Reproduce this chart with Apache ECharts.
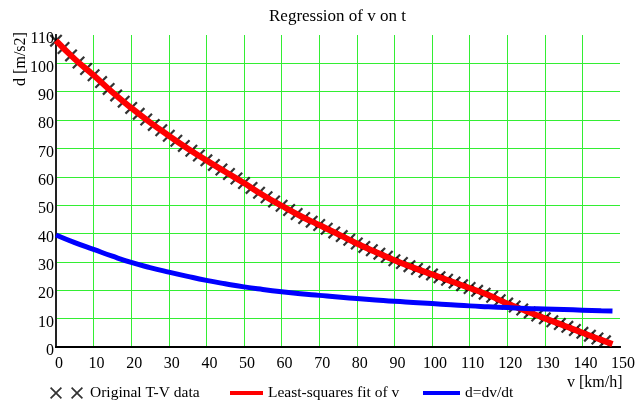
<!DOCTYPE html>
<html>
<head>
<meta charset="utf-8">
<script src="https://cdn.jsdelivr.net/npm/echarts@6/dist/echarts.min.js"></script>
<style>
	html, body { margin: 0; padding: 0; background: #fff; }
	#chart { width: 638px; height: 403px; }
</style>
</head>
<body>
<div id="chart"></div>
<script>
	// original T-V data (v in km/h, d in m/s2)
	var tvV = [0, 2, 4, 6, 8, 10, 12, 14, 16, 18, 20, 22, 24, 26, 28, 30, 32, 34, 36, 38,
		40, 42, 44, 46, 48, 50, 52, 54, 56, 58, 60, 62, 64, 66, 68, 70, 72, 74, 76, 78,
		80, 82, 84, 86, 88, 90, 92, 94, 96, 98, 100, 102, 104, 106, 108, 110, 112, 114, 116, 118,
		120, 122, 124, 126, 128, 130, 132, 134, 136, 138, 140, 142, 144, 146];
	var tvD = [108, 105.4, 102.8, 100.3, 98, 95.8, 93.4, 91, 88.7, 86.5, 84.3, 82.2, 80.2, 78.3, 76.4, 74.5, 72.7, 70.9, 69.2, 67.5,
		65.8, 64.2, 62.6, 61, 59.4, 57.8, 56.1, 54.4, 52.8, 51.3, 49.8, 48.3, 46.9, 45.5, 44.2, 43, 41.7, 40.4, 39.1, 37.8,
		36.5, 35.3, 34.1, 32.9, 31.8, 30.6, 29.6, 28.5, 27.5, 26.5, 25.6, 24.6, 23.7, 22.7, 21.8, 20.8, 19.8, 18.8, 17.7, 16.5,
		15.3, 14.3, 13.2, 12.2, 11.1, 10.1, 9.1, 8.1, 7.1, 6, 5, 4, 3, 2];

	// fitted curves
	var curveV = [0, 5, 10, 15, 20, 25, 30, 35, 40, 45, 50, 55, 60, 65, 70, 75, 80, 85, 90, 95,
		100, 105, 110, 115, 120, 125, 130, 135, 140, 145, 148];
	var fitD = [108, 101.5, 95.8, 89.8, 84.3, 79.2, 74.5, 70, 65.8, 61.8, 57.8, 53.6, 49.8, 46.2, 43, 39.8, 36.5, 33.5, 30.6, 28,
		25.6, 23.2, 20.8, 18.3, 15.3, 12.7, 10.1, 7.6, 5, 2.5, 1];
	var derivD = [39.5, 36.8, 34.4, 32, 29.8, 28, 26.4, 24.9, 23.5, 22.3, 21.2, 20.3, 19.5, 18.8, 18.2, 17.6, 17.1, 16.6, 16.1, 15.7,
		15.3, 14.9, 14.5, 14.2, 13.9, 13.6, 13.4, 13.2, 13, 12.8, 12.7];

	var serif = 'Liberation Serif, Times New Roman, serif';
	var xPath = 'path://M0,1.2L1.2,0L5,3.8L8.8,0L10,1.2L6.2,5L10,8.8L8.8,10L5,6.2L1.2,10L0,8.8L3.8,5Z';
	var xxPath = 'path://M0,1.2L1.2,0L6,4.8L10.8,0L12,1.2L7.2,6L12,10.8L10.8,12L6,7.2L1.2,12L0,10.8L4.8,6Z' +
		'M21,1.2L22.2,0L27,4.8L31.8,0L33,1.2L28.2,6L33,10.8L31.8,12L27,7.2L22.2,12L21,10.8L25.8,6Z';

	function pairs(xs, ys) {
		return xs.map(function (x, i) { return [x, ys[i]]; });
	}

	var chart = echarts.init(document.getElementById('chart'));
	chart.setOption({
		animation: false,
		backgroundColor: '#fff',
		textStyle: { fontFamily: serif },
		title: {
			text: 'Regression of v on t',
			left: 269,
			top: 8,
			padding: 0,
			textStyle: { fontFamily: serif, fontSize: 17, fontWeight: 'normal', color: '#000' }
		},
		grid: { left: 56, right: 14, top: 35, bottom: 56 },
		legend: [{
			data: ['Original T-V data'],
			left: 50, top: 385, padding: 0, itemGap: 0,
			icon: xxPath, itemWidth: 33, itemHeight: 12,
			textStyle: { fontFamily: serif, fontSize: 15.5, color: '#000', padding: [0, 0, 0, 2] }
		}, {
			data: ['Least-squares fit of v'],
			left: 230, top: 385, padding: 0,
			icon: 'rect', itemWidth: 33, itemHeight: 4,
			textStyle: { fontFamily: serif, fontSize: 15.5, color: '#000' }
		}, {
			data: ['d=dv/dt'],
			left: 423, top: 385, padding: 0,
			icon: 'rect', itemWidth: 37, itemHeight: 4,
			textStyle: { fontFamily: serif, fontSize: 15.5, color: '#000' }
		}],
		xAxis: [{
			type: 'value', min: 0, max: 150, interval: 10,
			axisLine: { show: true, onZero: false, lineStyle: { color: '#000', width: 2 } },
			axisTick: { show: false },
			axisLabel: { margin: 9, padding: [0, 0, 0, 6], fontFamily: serif, fontSize: 16, color: '#000' },
			splitLine: { show: true, showMinLine: false, showMaxLine: false, lineStyle: { color: '#33ee33', width: 1 } }
		}, {
			type: 'value', position: 'top', min: 0, max: 150,
			axisLine: { show: true, lineStyle: { color: '#000', width: 2 } },
			axisTick: { show: false }, axisLabel: { show: false }, splitLine: { show: false }
		}],
		yAxis: [{
			type: 'value', min: 0, max: 110, interval: 10,
			axisLine: { show: true, onZero: false, lineStyle: { color: '#000', width: 2 } },
			axisTick: { show: false },
			axisLabel: { margin: 2, verticalAlign: 'top', lineHeight: 8, fontFamily: serif, fontSize: 16, color: '#000' },
			splitLine: { show: true, showMinLine: false, showMaxLine: false, lineStyle: { color: '#33ee33', width: 1 } }
		}, {
			type: 'value', position: 'right', min: 0, max: 110,
			axisLine: { show: true, lineStyle: { color: '#222', width: 2 } },
			axisTick: { show: false }, axisLabel: { show: false }, splitLine: { show: false }
		}],
		graphic: [{
			type: 'text', x: 21, y: 59, rotation: Math.PI / 2,
			style: { text: 'd [m/s2]', fontFamily: serif, fontSize: 16, fill: '#000', align: 'center', verticalAlign: 'middle' }
		}, {
			type: 'text', x: 567, y: 383,
			style: { text: 'v [km/h]', fontFamily: serif, fontSize: 16, fill: '#000', align: 'left', verticalAlign: 'middle' }
		}],
		series: [{
			name: 'Original T-V data',
			type: 'scatter',
			symbol: xPath,
			symbolSize: 13,
			itemStyle: { color: '#000' },
			z: 2,
			data: pairs(tvV, tvD)
		}, {
			name: 'Least-squares fit of v',
			type: 'line',
			smooth: true,
			showSymbol: false,
			itemStyle: { color: '#ff0000' },
			lineStyle: { color: '#ff0000', width: 6 },
			z: 3,
			data: pairs(curveV, fitD)
		}, {
			name: 'd=dv/dt',
			type: 'line',
			smooth: true,
			showSymbol: false,
			itemStyle: { color: '#0000ff' },
			lineStyle: { color: '#0000ff', width: 5 },
			z: 4,
			data: pairs(curveV, derivD)
		}]
	});
</script>
</body>
</html>
